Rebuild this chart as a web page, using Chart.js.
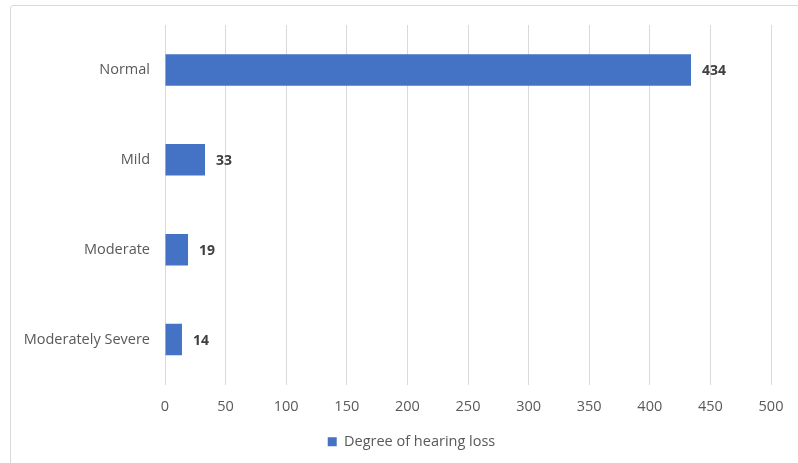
<!DOCTYPE html>
<html>
<head>
<meta charset="utf-8">
<script src="https://cdn.jsdelivr.net/npm/chart.js@4.4.1/dist/chart.umd.min.js"></script>
<style>
  html, body { margin: 0; padding: 0; background: #fff; }
  #frame { position: absolute; left: 10px; top: 5px; width: 790px; height: 470px;
           border: 1px solid #d9d9d9; border-radius: 3px; box-sizing: border-box; }
  #wrap { position: absolute; left: 0; top: 0; width: 798px; height: 463px; }
</style>
</head>
<body>
<div id="frame"></div>
<div id="wrap"><canvas id="myChart" width="798" height="463"></canvas></div>
<script>
const categories = ['Normal', 'Mild', 'Moderate', 'Moderately Severe'];
const hearingLoss = [434, 33, 19, 14];
const xTicks = [0, 50, 100, 150, 200, 250, 300, 350, 400, 450, 500];

const textColor = '#595959';
const barColor = '#4472C4';

// draws the value beside each bar
const valueLabels = {
    id: 'valueLabels',
    afterDatasetsDraw(chart) {
        const ctx = chart.ctx;
        const meta = chart.getDatasetMeta(0);
        ctx.save();
        ctx.font = 'bold 14px "Open Sans"';
        ctx.fillStyle = '#404040';
        ctx.textAlign = 'left';
        ctx.textBaseline = 'middle';
        meta.data.forEach((bar, i) => {
            ctx.fillText(chart.data.datasets[0].data[i], bar.x + 11, bar.y + 1);
        });
        ctx.restore();
    }
};

// legend sits a little right of the canvas centre in the original
const legendShift = {
    id: 'legendShift',
    afterLayout(chart) {
        chart.legend.left += 26;
        chart.legend.right += 26;
    }
};

Chart.defaults.font.family = '"Open Sans", sans-serif';
Chart.defaults.font.size = 14.5;
Chart.defaults.color = textColor;

const canvasContext = document.getElementById('myChart').getContext('2d');
const myChart = new Chart(canvasContext, {
    type: 'bar',
    data: {
        labels: categories,
        datasets: [{
            label: 'Degree of hearing loss',
            data: hearingLoss,
            backgroundColor: barColor,
            borderWidth: 0,
            categoryPercentage: 1,
            barPercentage: 0.35
        }]
    },
    options: {
        indexAxis: 'y',
        responsive: false,
        animation: false,
        layout: { padding: { left: 0, top: 25, right: 27, bottom: 4 } },
        scales: {
            x: {
                min: 0,
                max: 500,
                afterBuildTicks(axis) { axis.ticks = xTicks.map(v => ({ value: v })); },
                grid: { color: '#d9d9d9', lineWidth: 1, drawTicks: false },
                border: { display: false },
                ticks: { padding: 14, color: textColor },
                afterFit(axis) { axis.height = 40; }
            },
            y: {
                grid: { display: false, drawTicks: false },
                border: { display: false },
                ticks: { padding: 15, color: textColor },
                afterFit(axis) { axis.width = 165; }
            }
        },
        plugins: {
            legend: {
                position: 'bottom',
                labels: { boxWidth: 9, boxHeight: 9, padding: 10, color: textColor }
            },
            tooltip: { enabled: false }
        }
    },
    plugins: [valueLabels, legendShift]
});
</script>
</body>
</html>
